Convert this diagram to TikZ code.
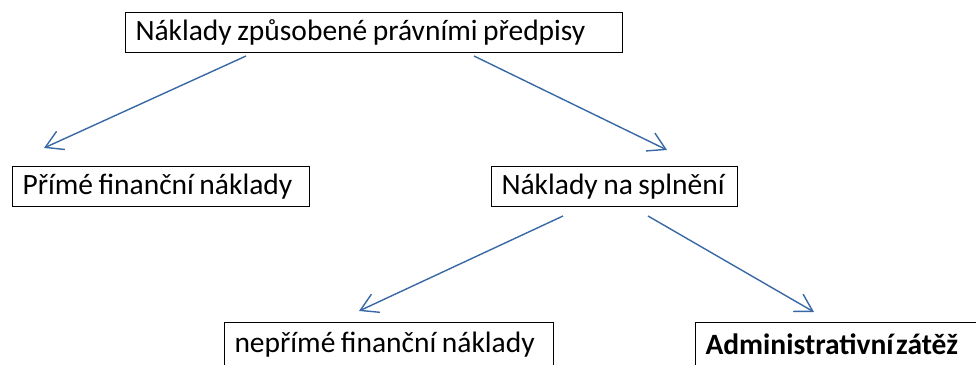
\documentclass[tikz,border=0pt]{standalone}
\usepackage{fontspec}
\setmainfont{Carlito}
\usetikzlibrary{arrows.meta}
\definecolor{conn}{HTML}{3868A6}
\newcommand{\boxtext}[2]{\makebox[#1][l]{\spaceskip=5.5pt\relax #2}}
\tikzset{
  box/.style={draw=black, line width=1pt, anchor=north west, inner xsep=10pt, inner ysep=0pt,
    minimum height=40pt, font=\fontsize{29.5pt}{31pt}\selectfont}
}
\tikzset{
  conn/.style={draw=conn, line width=1.4pt, -{Straight Barb[length=17pt,width=20pt,line width=1.4pt]}}
}
\begin{document}
\begin{tikzpicture}[x=1pt,y=-1pt]
\useasboundingbox (0,0) rectangle (976,364);
\clip (0,0) rectangle (976,364);
\node[box] (top) at (125,12) {\boxtext{477pt}{Náklady způsobené právními předpisy}};
\node[box] (prime) at (12,166) {\boxtext{277pt}{Přímé finanční náklady}};
\node[box] (spl) at (491,166) {\boxtext{226pt}{Náklady na splnění}};
\node[box, minimum height=44pt] (neprime) at (224,322) {\boxtext{309pt}{nepřímé finanční náklady}};
\node[box, minimum height=44pt] (admin) at (695,322) {\boxtext{280pt}{\textbf{Administrativní\hspace{-3pt} zátěž}}};
\coordinate (a1s) at (246,56); \coordinate (a1e) at (44,148);
\coordinate (a2s) at (474,56); \coordinate (a2e) at (667,150);
\coordinate (a3s) at (563,216); \coordinate (a3e) at (359,311);
\coordinate (a4s) at (648,216); \coordinate (a4e) at (814,312);
\draw[conn] (a1s) -- (a1e);
\draw[conn] (a2s) -- (a2e);
\draw[conn] (a3s) -- (a3e);
\draw[conn] (a4s) -- (a4e);
\end{tikzpicture}
\end{document}
